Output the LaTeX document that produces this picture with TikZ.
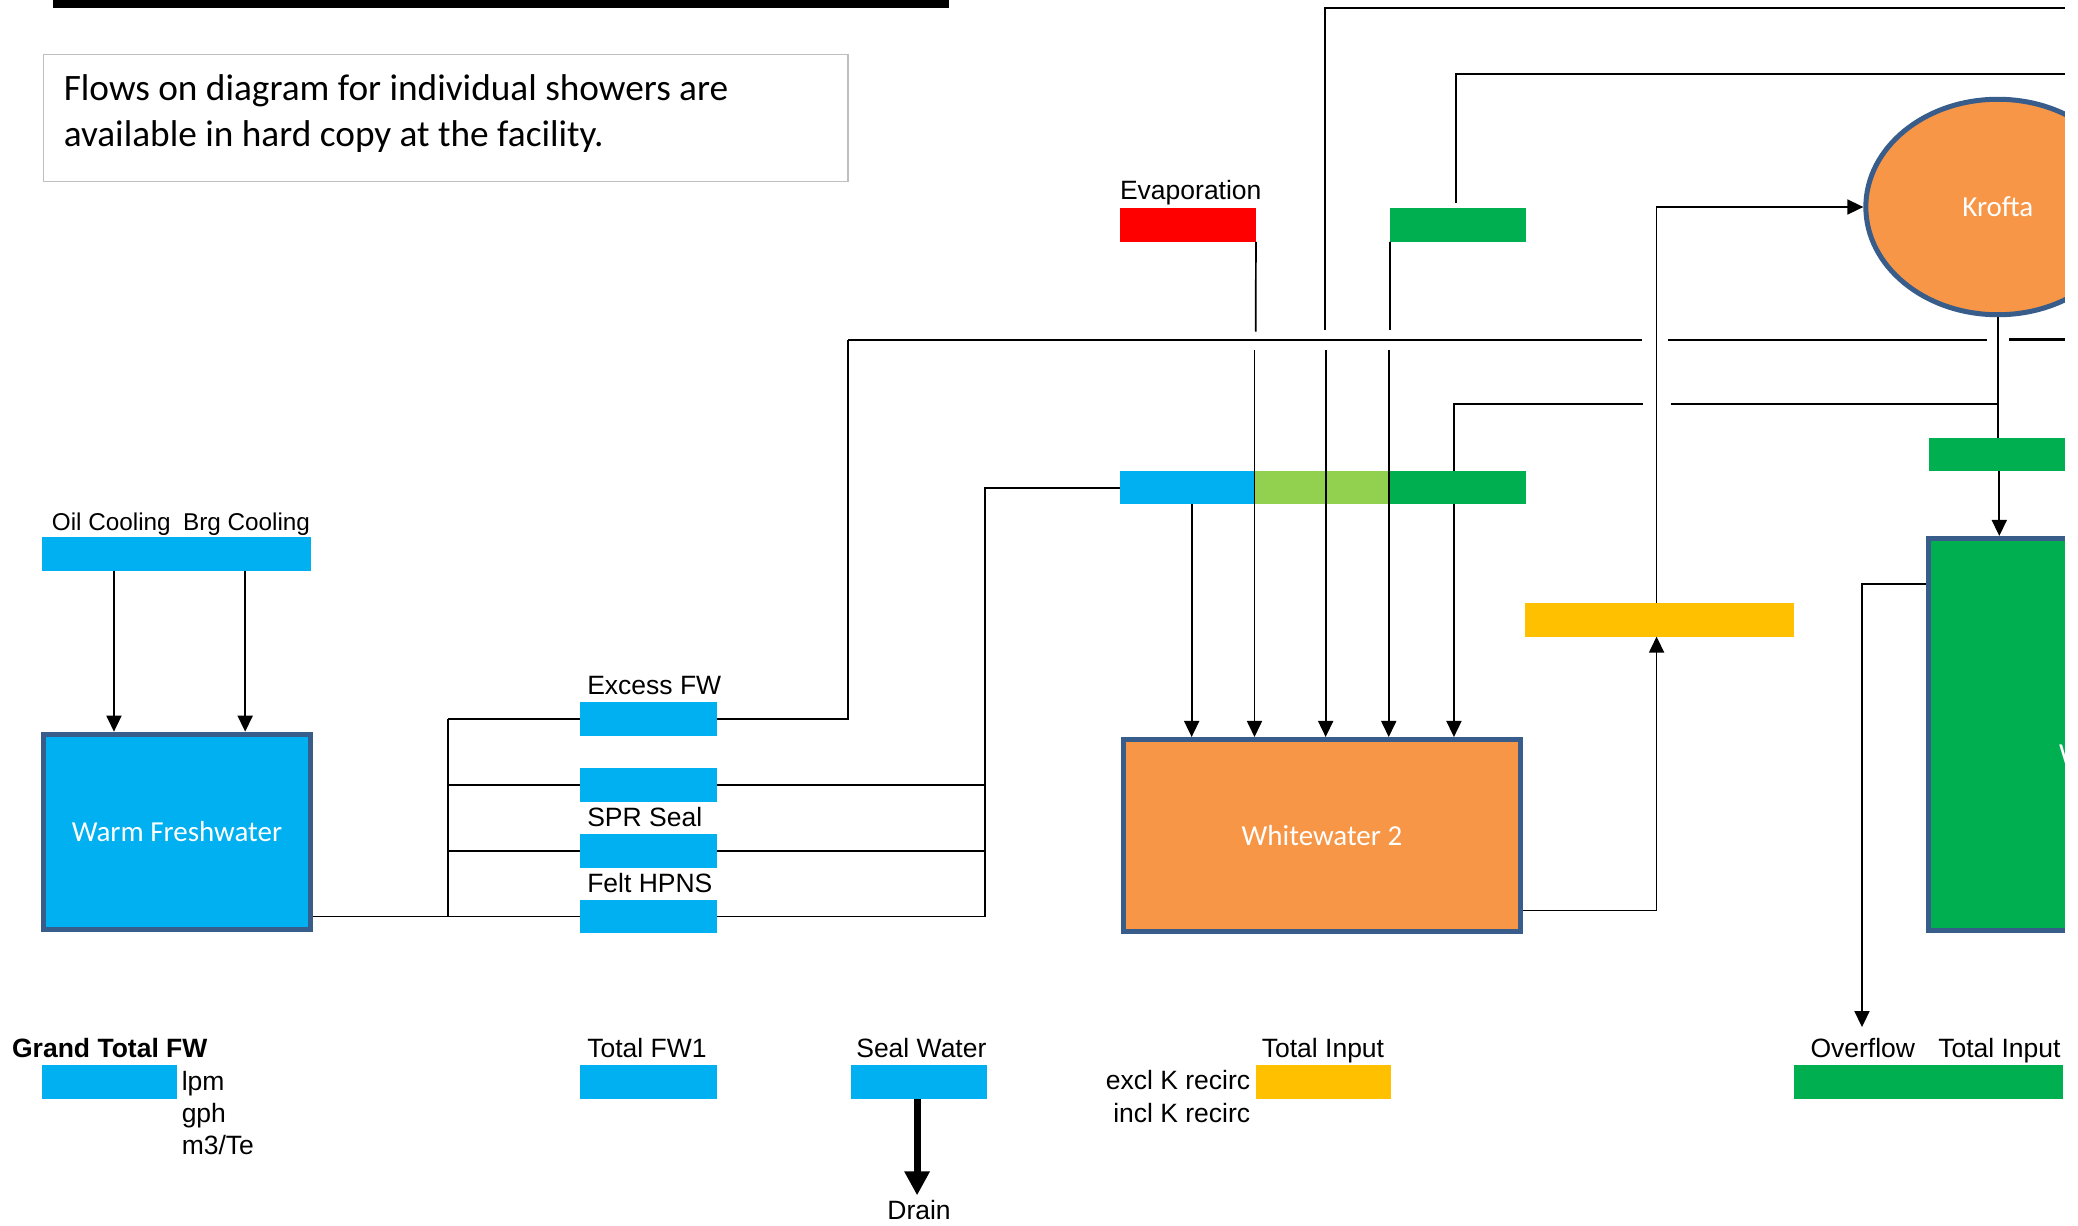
\documentclass[tikz,border=0pt]{standalone}
\usepackage{fontspec}
\setmainfont{Liberation Sans}
\newfontfamily\calibri{Carlito}
\usetikzlibrary{arrows.meta,shapes.geometric,calc}

\definecolor{fwblue}{HTML}{00B0F0}
\definecolor{lgreen}{HTML}{92D050}
\definecolor{dgreen}{HTML}{00B050}
\definecolor{evapred}{HTML}{FF0000}
\definecolor{amber}{HTML}{FFC000}
\definecolor{tankorange}{HTML}{F79646}
\definecolor{rim}{HTML}{385D8A}
\definecolor{notegray}{HTML}{BFBFBF}

\def\spx{1.3253pt}

\begin{document}
\begin{tikzpicture}[x=1.3253pt,y=-1.3253pt,
  bar/.style={rectangle, inner sep=0pt, outer sep=0pt, minimum height=25.3*\spx},
  tank/.style={rectangle, draw=rim, line width=5pt, inner sep=0pt, text=white,
    font=\calibri\fontsize{29}{35}\selectfont},
  lbl/.style={inner sep=0pt, anchor=base west, font=\fontsize{26.5}{31}\selectfont},
  notetext/.style={inner sep=0pt, anchor=base west, font=\calibri\fontsize{37.3}{45}\selectfont},
  wire/.style={line width=1.7pt},
  header/.style={line width=2.1pt},
  feed/.style={line width=1.7pt, -{Triangle[length=16pt,width=15pt]}},
  drainarr/.style={line width=7pt, -{Triangle[length=24pt,width=24pt]}},
]
\useasboundingbox (0,0) rectangle (1568,925);
\begin{scope}
\clip (0,0) rectangle (1558,925);

% heading rule and note
\fill (40,0) rectangle (716,5.7);
\node[draw=notegray, line width=1.5pt, inner sep=0pt,
  minimum width=607*\spx, minimum height=96*\spx] (note) at (336.5,89) {};
\node[notetext] (note1) at (48,75.5) {Flows on diagram for individual showers are};
\node[notetext] (note2) at (48,110.7) {available in hard copy at the facility.};

% ---------- warm freshwater ----------
\node[bar, fill=fwblue, minimum width=203*\spx] (cool) at (133.5,418) {};
\node[lbl, font=\fontsize{24.3}{29}\selectfont] (oil-l) at (39,400) {Oil Cooling};
\node[lbl, font=\fontsize{24.3}{29}\selectfont] (brg-l) at (138,400) {Brg Cooling};
\node[tank, fill=fwblue, minimum width=201*\spx, minimum height=147*\spx] (wfw) at (133.5,627.5) {Warm Freshwater};
\coordinate (oilx) at (86,0);
\coordinate (brgx) at (185,0);
\draw[feed] (cool.south -| oilx) -- (wfw.north -| oilx);
\draw[feed] (cool.south -| brgx) -- (wfw.north -| brgx);

% shower supply bars
\node[bar, fill=fwblue, minimum width=103*\spx] (excess) at (489.5,542.5) {};
\node[bar, fill=fwblue, minimum width=103*\spx] (blank) at (489.5,592.3) {};
\node[bar, fill=fwblue, minimum width=103*\spx] (spr) at (489.5,642.1) {};
\node[bar, fill=fwblue, minimum width=103*\spx] (felt) at (489.5,691.5) {};
\node[lbl] (excess-l) at (443,523.7) {Excess FW};
\node[lbl] (spr-l) at (443,623.8) {SPR Seal};
\node[lbl] (felt-l) at (443,673.3) {Felt HPNS};

\coordinate (busL) at (338,0);
\coordinate (busR) at (743,0);
\draw[wire] (wfw.east |- felt) -- (felt.west);
\draw[wire] (busL |- excess) -- (busL |- felt);
\foreach \b in {excess,blank,spr} \draw[wire] (busL |- \b) -- (\b.west);
\foreach \b in {blank,spr} \draw[wire] (\b.east) -- (busR |- \b);

% ---------- whitewater 2 inputs ----------
\node[bar, fill=fwblue, minimum width=101.1*\spx] (mixb) at (895.65,368) {};
\node[bar, fill=lgreen, minimum width=101.6*\spx] (mixl) at (997,368) {};
\node[bar, fill=dgreen, minimum width=103.6*\spx] (mixg) at (1099.6,368) {};
\node[bar, fill=evapred, minimum width=102.7*\spx] (evap) at (896.35,169.8) {};
\node[bar, fill=dgreen, minimum width=102.6*\spx] (topg) at (1100.1,169.8) {};
\node[lbl] (evap-l) at (845,150.4) {Evaporation};

\draw[wire] (felt.east) -- (busR |- felt) |- (mixb.west);

\node[tank, fill=tankorange, minimum width=299*\spx, minimum height=145*\spx] (ww2) at (997.5,630.5) {Whitewater 2};

% header line with breaks where the feeds cross
\coordinate (hdr) at (640,256.5);
\coordinate (hA) at (1238.7,256.5);
\coordinate (hB) at (1258.7,256.5);
\coordinate (hC) at (1499,256.5);
\coordinate (hD) at (1516,256.2);
\coordinate (hE) at (1562,256.2);
\draw[wire] (excess.east) -| (hdr);
\draw[header] (hdr) -- (hA);
\draw[header] (hB) -- (hC);
\draw[header] (hD) -- (hE);

% feeds dropping into whitewater 2
\coordinate (e1) at (947.5,250.3);
\coordinate (e2) at (946.6,264);
\draw[wire] (evap.south east) -- (e1);
\draw[feed] (e2) -- (ww2.north -| e2);

\coordinate (topR) at (1562,6);
\coordinate (c2a) at (1000,249);
\coordinate (c2b) at (1000.3,264);
\draw[wire] (topR) -| (c2a);
\draw[feed] (c2b) -- (ww2.north -| c2b);

\coordinate (c3a) at (1048.8,249);
\coordinate (c3b) at (1047.9,264);
\draw[wire] (topg.south west) -- (c3a);
\draw[feed] (c3b) -- (ww2.north -| c3b);

\coordinate (c4) at (1098.4,153.4);
\coordinate (topR2) at (1562,56);
\draw[wire] (c4) |- (topR2);

\coordinate (d1) at (899.2,0);
\coordinate (d5) at (1097.1,0);
\draw[feed] (mixb.south -| d1) -- (ww2.north -| d1);
\draw[feed] (mixg.south -| d5) -- (ww2.north -| d5);

\coordinate (rA) at (1239.9,305.1);
\coordinate (rB) at (1260.6,305.1);
\coordinate (rC) at (1507.7,305.1);
\draw[wire] (mixg.north -| d5) |- (rA);
\draw[wire] (rB) -- (rC);

% ---------- whitewater 2 to krofta ----------
\node[bar, fill=amber, minimum width=203*\spx] (yel) at (1252.5,467.7) {};
\node[ellipse, draw=rim, line width=5pt, fill=tankorange, text=white,
  font=\calibri\fontsize{29}{35}\selectfont, inner sep=0pt,
  minimum width=199.2*\spx, minimum height=162.6*\spx] (krofta) at (1507.5,156.2) {Krofta};
\coordinate (risex) at (1250,0);
\coordinate (wwo) at (0,687);
\draw[feed] (ww2.east |- wwo) -| (yel.south -| risex);
\draw[feed] (yel.north -| risex) |- (krofta.west);

% ---------- krofta to green tank ----------
\node[bar, fill=dgreen, minimum width=144.4*\spx] (kgb) at (1527.8,343.1) {};
\node[tank, fill=dgreen, minimum width=145*\spx, minimum height=296.2*\spx] (tank) at (1527.5,554.4) {};
\node[inner sep=0pt, anchor=base west, text=white, font=\calibri\fontsize{29}{35}\selectfont] (tank-l) at (1553.5,576) {W};
\coordinate (kx) at (1508.6,0);
\draw[wire] (krofta.south) -- (krofta.south |- kgb.north);
\draw[feed] (kgb.south -| kx) -- (tank.north -| kx);
\coordinate (tko) at (0,440.7);
\coordinate (ovf) at (1405,775);
\draw[feed] (tank.west |- tko) -| (ovf);

% ---------- totals ----------
\node[lbl, font=\bfseries\fontsize{26.5}{31}\selectfont] (gt-l) at (9,797.7) {Grand Total FW};
\node[bar, fill=fwblue, minimum width=101.3*\spx] (gt) at (82.65,816.3) {};
\node[lbl] (lpm) at (137,822.5) {lpm};
\node[lbl] (gph) at (137,846.7) {gph};
\node[lbl] (m3te) at (137,871.5) {m3/Te};

\node[lbl] (tfw1-l) at (443,797.7) {Total FW1};
\node[bar, fill=fwblue, minimum width=103*\spx] (tfw1) at (489.5,816.3) {};

\node[lbl] (seal-l) at (646,797.7) {Seal Water};
\node[bar, fill=fwblue, minimum width=102.6*\spx] (seal) at (693.3,816.3) {};
\node[lbl, anchor=base] (drain) at (693.5,920) {Drain};
\coordinate (dx) at (692,0);
\coordinate (drainTip) at (692,902);
\draw[drainarr] (seal.south -| dx) -- (drainTip);

\node[lbl] (ti-l) at (952,797.7) {Total Input};
\node[bar, fill=amber, minimum width=102*\spx] (ti) at (998.5,816.3) {};
\node[lbl, anchor=base east] (excl) at (943.5,822) {excl K recirc};
\node[lbl, anchor=base east] (incl) at (943.5,846.7) {incl K recirc};

\node[lbl] (ovf-l) at (1366,797.7) {Overflow};
\node[lbl, anchor=base east] (ti2-l) at (1555,797.7) {Total Input};
\node[bar, fill=dgreen, minimum width=203*\spx] (ti2) at (1455.5,816.3) {};
\end{scope}
\end{tikzpicture}
\end{document}
